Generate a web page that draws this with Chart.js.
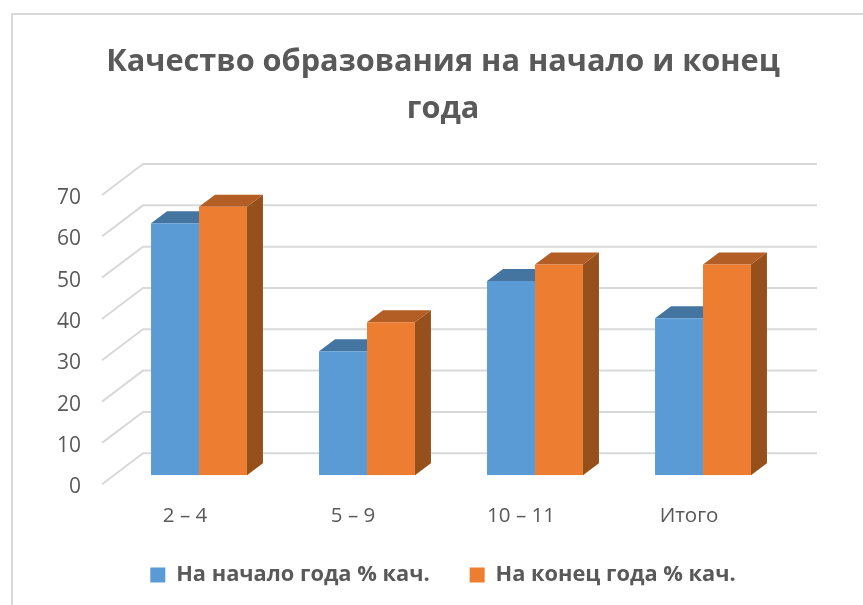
<!DOCTYPE html>
<html>
<head>
<meta charset="utf-8">
<script src="https://cdn.jsdelivr.net/npm/chart.js@4"></script>
<style>
  html, body { margin: 0; background: #fff; }
  #wrap { position: relative; width: 863px; height: 605px; overflow: hidden; }
  #frame { position: absolute; left: 11px; top: 13px; width: 900px; height: 640px; border: 2px solid #d9d9d9; }
  canvas { position: absolute; left: 0; top: 0; }
</style>
</head>
<body>
<div id="wrap">
  <div id="frame"></div>
  <canvas id="chart" width="863" height="605"></canvas>
</div>
<script>
const categories = ['2 – 4', '5 – 9', '10 – 11', 'Итого'];
const startValues = [61, 30, 47, 38];
const endValues = [65, 37, 51, 51];
const seriesNames = ['На начало года % кач.', 'На конец года % кач.'];
const titleLines = ['Качество образования на начало и конец', 'года'];

const FONT = '"Open Sans", sans-serif';
const TEXT = '#595959';
const GRID = '#d9d9d9';

// depth of the 3d box on each bar
const DX = 16, DY = -12;

// back wall and diagonal gridlines, drawn behind the bars
const wallPlugin = {
  id: 'wall',
  beforeDatasetsDraw(chart) {
    const c = chart.ctx, y = chart.scales.y, left = chart.chartArea.left;
    c.save();
    c.strokeStyle = GRID;
    c.lineWidth = 2;
    y.ticks.forEach(t => {
      const py = y.getPixelForValue(t.value);
      c.beginPath();
      c.moveTo(left - 13, py + 9);
      c.lineTo(left + 28, py - 22);
      c.lineTo(817, py - 22);
      c.stroke();
    });
    c.restore();
  }
};

// top and side faces of every bar
const boxPlugin = {
  id: 'box',
  beforeDatasetsDraw(chart) {
    const c = chart.ctx;
    chart.data.datasets.forEach((ds, i) => {
      chart.getDatasetMeta(i).data.forEach(bar => {
        const p = bar.getProps(['x', 'y', 'base', 'width'], true);
        const l = p.x - p.width / 2, r = p.x + p.width / 2;
        c.fillStyle = ds.topColor;
        c.beginPath();
        c.moveTo(l, p.y);
        c.lineTo(l + DX, p.y + DY);
        c.lineTo(r + DX, p.y + DY);
        c.lineTo(r, p.y);
        c.fill();
        c.fillStyle = ds.sideColor;
        c.beginPath();
        c.moveTo(r, p.y);
        c.lineTo(r + DX, p.y + DY);
        c.lineTo(r + DX, p.base + DY);
        c.lineTo(r, p.base);
        c.fill();
      });
    });
  }
};

new Chart(document.getElementById('chart'), {
  type: 'bar',
  data: {
    labels: categories,
    datasets: [
      { label: seriesNames[0], data: startValues, backgroundColor: '#5b9bd5', topColor: '#4474a0', sideColor: '#3f6d96',
        categoryPercentage: 0.571, barPercentage: 1 },
      { label: seriesNames[1], data: endValues, backgroundColor: '#ed7d31', topColor: '#b25e25', sideColor: '#95501c',
        categoryPercentage: 0.571, barPercentage: 1 }
    ]
  },
  options: {
    responsive: false,
    animation: false,
    layout: { padding: { left: 50, right: 27, top: 0, bottom: 9 } },
    plugins: {
      tooltip: { enabled: false },
      title: {
        display: true,
        text: titleLines,
        color: TEXT,
        font: { family: FONT, size: 30.7, weight: 'bold', lineHeight: 1.52 },
        padding: { top: 39, bottom: 53.7 }
      },
      legend: {
        position: 'bottom',
        labels: {
          color: TEXT,
          font: { family: FONT, size: 21.8, weight: 'bold' },
          boxWidth: 15,
          boxHeight: 15,
          padding: 40
        }
      }
    },
    scales: {
      x: {
        grid: { display: false },
        border: { display: false },
        ticks: { color: TEXT, font: { family: FONT, size: 20.5 }, labelOffset: -14, padding: 20.5 },
        afterFit(scale) { scale.height = 49; }
      },
      y: {
        min: 0,
        max: 70,
        grid: { display: false },
        border: { display: false },
        ticks: { stepSize: 10, color: TEXT, font: { family: FONT, size: 21 }, labelOffset: 12, padding: 26 },
        afterFit(scale) { scale.width = 65; }
      },
      // empty spacer on the right, keeps the title and legend centred like the original
      spacer: {
        type: 'linear',
        position: 'right',
        grid: { display: false },
        border: { display: false },
        ticks: { display: false },
        afterFit(scale) { scale.width = 49; }
      }
    }
  },
  plugins: [wallPlugin, boxPlugin]
});
</script>
</body>
</html>
